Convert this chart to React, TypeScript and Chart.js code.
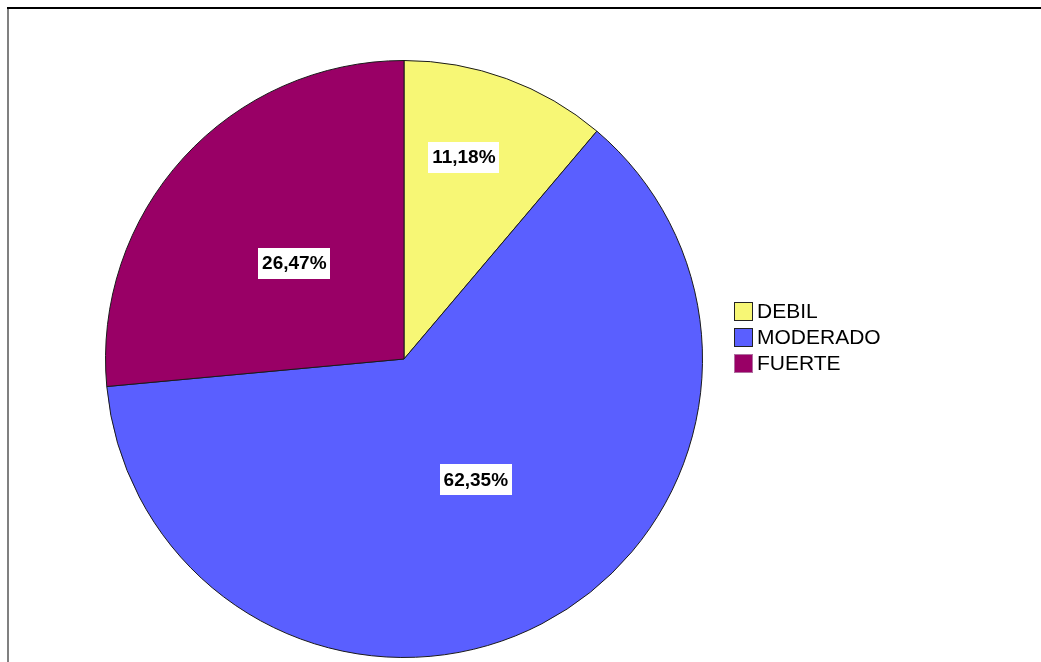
import React, { useEffect, useRef } from "react";
import { Chart, registerables } from "chart.js";

Chart.register(...registerables);

const categories = ["DEBIL", "MODERADO", "FUERTE"];
const percentages = [11.18, 62.35, 26.47];
const valueLabels = ["11,18%", "62,35%", "26,47%"];
const sliceColors = ["#F7F775", "#5A5FFF", "#990066"];

const sliceLabelPlugin = {
  id: "sliceLabels",
  afterDatasetsDraw(chart: any, _args: any, opts: any) {
    const ctx = chart.ctx;
    const meta = chart.getDatasetMeta(0);
    meta.data.forEach((arc: any, i: number) => {
      const p = arc.getProps(["x", "y", "startAngle", "endAngle", "outerRadius"], true);
      const mid = (p.startAngle + p.endAngle) / 2 + (opts.angleShift[i] * Math.PI) / 180;
      const r = p.outerRadius * opts.radiusFrac[i];
      const px = p.x + Math.cos(mid) * r;
      const py = p.y + Math.sin(mid) * r;
      const text = valueLabels[i];
      ctx.save();
      ctx.font = opts.font;
      const w = ctx.measureText(text).width + 2 * opts.padX;
      const h = opts.boxH;
      ctx.fillStyle = "#ffffff";
      ctx.fillRect(Math.round(px - w / 2), Math.round(py - h / 2), Math.round(w), h);
      ctx.fillStyle = "#000000";
      ctx.textAlign = "center";
      ctx.textBaseline = "middle";
      ctx.fillText(text, px, py + 1);
      ctx.restore();
    });
  },
};

const legendPlugin = {
  id: "sideLegend",
  afterDraw(chart: any, _args: any, opts: any) {
    const ctx = chart.ctx;
    const labels = chart.data.labels as string[];
    const ds = chart.data.datasets[0];
    ctx.save();
    ctx.font = opts.font;
    ctx.textBaseline = "middle";
    ctx.textAlign = "left";
    labels.forEach((lab, i) => {
      const top = opts.y + i * opts.rowH;
      ctx.fillStyle = ds.backgroundColor[i];
      ctx.fillRect(opts.x, top, opts.box, opts.box);
      ctx.strokeStyle = i === 2 ? "#b070a0" : "#222222";
      ctx.lineWidth = 1;
      ctx.strokeRect(opts.x + 0.5, top + 0.5, opts.box - 1, opts.box - 1);
      ctx.fillStyle = "#000000";
      ctx.fillText(lab, opts.x + opts.box + opts.gap, top + opts.box / 2 + 1);
    });
    ctx.restore();
  },
};

export default function App() {
  const ref = useRef<HTMLCanvasElement | null>(null);

  useEffect(() => {
    if (!ref.current) return;
    const chart = new Chart(ref.current, {
      type: "pie",
      data: {
        labels: categories,
        datasets: [
          {
            data: percentages,
            backgroundColor: sliceColors,
            borderColor: "#1a1a1a",
            borderWidth: 1,
          },
        ],
      },
      options: {
        responsive: false,
        animation: false,
        events: [],
        layout: { padding: { left: 104, top: 60, right: 337, bottom: 4 } },
        plugins: {
          legend: { display: false },
          tooltip: { enabled: false },
          sliceLabels: {
            font: "bold 19px 'Liberation Sans', Arial, sans-serif",
            padX: 4,
            boxH: 31,
            angleShift: [-3.6, -3.2, -1.2],
            radiusFrac: [0.705, 0.471, 0.488],
          },
          sideLegend: {
            font: "21px 'Liberation Sans', Arial, sans-serif",
            x: 734,
            y: 302,
            box: 19,
            rowH: 26,
            gap: 4,
          },
        } as any,
      },
      plugins: [sliceLabelPlugin, legendPlugin],
    });
    return () => chart.destroy();
  }, []);

  return (
    <div style={{ position: "fixed", left: 0, top: 0, width: 1041, height: 662, background: "#fff", overflow: "hidden" }}>
      <canvas ref={ref} width={1041} height={662} style={{ position: "absolute", left: 0, top: 0, width: 1041, height: 662 }} />
      <div style={{ position: "absolute", left: 7, top: 7, width: 1034, height: 2, background: "#000" }} />
      <div style={{ position: "absolute", left: 7, top: 9, width: 2, height: 653, background: "#808080" }} />
    </div>
  );
}
